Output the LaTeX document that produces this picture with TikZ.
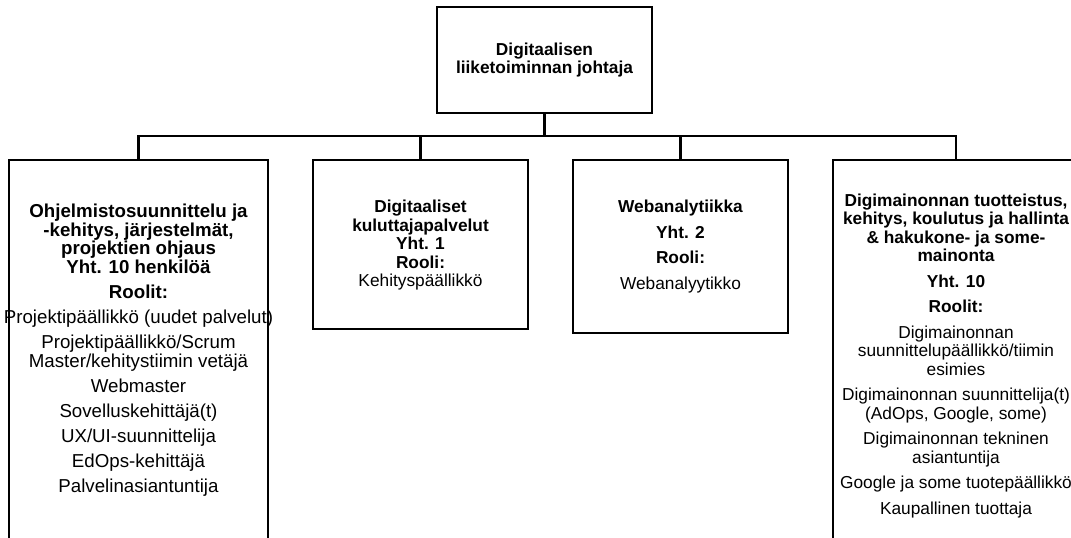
\documentclass[tikz,border=0pt]{standalone}
\usepackage{fontspec}
\setmainfont{Liberation Sans}
\begin{document}
\begin{tikzpicture}[x=1pt,y=-1pt,
  box/.style={draw=black,line width=2.4pt,fill=white,minimum width=#1,inner sep=0pt},
  txt/.style={align=center,font=\fontsize{17.3}{18.5}\selectfont,inner sep=0pt},
  bigtxt/.style={align=center,font=\fontsize{18.7}{18.8}\selectfont,inner sep=0pt},
  conn/.style={draw=black,line width=2.4pt}]
\useasboundingbox (0,0) rectangle (1071,538);
\clip (0,0) rectangle (1071,538);
% boxes
\node[box=215pt,minimum height=106pt] (top) at (544.5,60) {};
\node[box=259pt,minimum height=380pt] (b1) at (138.5,350) {};
\node[box=215pt,minimum height=169pt] (b2) at (420.5,244.5) {};
\node[box=215pt,minimum height=173pt] (b3) at (680.5,246.5) {};
\node[box=246pt,minimum height=380pt] (b4) at (956,350) {};
\coordinate (bus) at (0,136);
% connectors
\draw[conn] (top.south) -- (top.south |- bus) -| (b1.north);
\draw[conn] (top.south |- bus) -| (b2.north);
\draw[conn] (top.south |- bus) -| (b3.north);
\draw[conn] (top.south |- bus) -| (b4.north);
% texts
\node[txt] (ttop) at (top.center) {\bfseries Digitaalisen\\\bfseries liiketoiminnan johtaja};
\node[bigtxt] (t1) at (b1.center) {\bfseries Ohjelmistosuunnittelu ja\\\bfseries -kehitys, järjestelmät,\\\bfseries projektien ohjaus\\\bfseries Yht. 10 henkilöä\\[6.2pt]
\bfseries Roolit:\\[6.2pt]
Projektipäällikkö (uudet palvelut)\\[6.2pt]
Projektipäällikkö/Scrum\\Master/kehitystiimin vetäjä\\[6.2pt]
Webmaster\\[6.2pt]
Sovelluskehittäjä(t)\\[6.2pt]
UX/UI-suunnittelija\\[6.2pt]
EdOps-kehittäjä\\[6.2pt]
Palvelinasiantuntija};
\node[txt] (t2) at ([yshift=-1pt]b2.center) {\bfseries Digitaaliset\\\bfseries kuluttajapalvelut\\\bfseries Yht. 1\\\bfseries Rooli:\\Kehityspäällikkö};
\node[txt] (t3) at (b3.center) {\bfseries Webanalytiikka\\[7pt]\bfseries Yht. 2\\[7pt]\bfseries Rooli:\\[7pt]Webanalyytikko};
\node[txt] (t4) at ([yshift=-6pt]b4.center) {\bfseries Digimainonnan tuotteistus,\\\bfseries kehitys, koulutus ja hallinta\\\bfseries \& hakukone- ja some-\\\bfseries mainonta\\[7pt]
\bfseries Yht. 10\\[7pt]
\bfseries Roolit:\\[7pt]
Digimainonnan\\suunnittelupäällikkö/tiimin\\esimies\\[7pt]
Digimainonnan suunnittelija(t)\\(AdOps, Google, some)\\[7pt]
Digimainonnan tekninen\\asiantuntija\\[7pt]
Google ja some tuotepäällikkö\\[7pt]
Kaupallinen tuottaja};
\end{tikzpicture}
\end{document}
